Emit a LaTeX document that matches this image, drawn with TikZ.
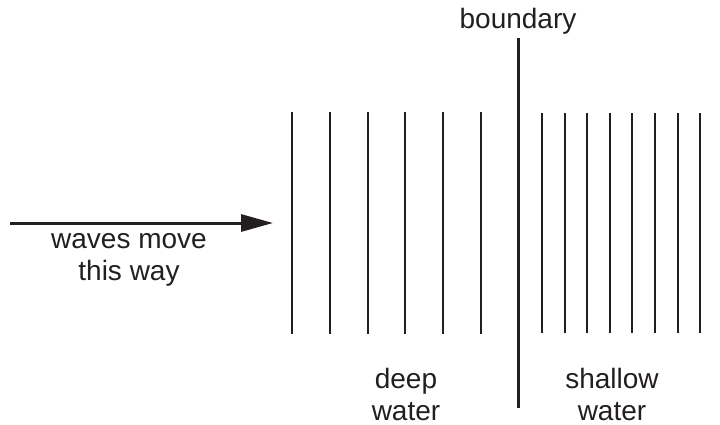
\documentclass[tikz,border=0pt]{standalone}
\usepackage{fontspec}
\setmainfont{Liberation Sans}
\usetikzlibrary{arrows.meta}
\definecolor{ink}{HTML}{231F20}
\begin{document}
\begin{tikzpicture}[x=1pt,y=-1pt,
    wave/.style={draw=ink,line width=2pt},
    lbl/.style={text=ink,font=\fontsize{28}{32}\selectfont,align=center,inner sep=0pt}]
    \useasboundingbox (0,0) rectangle (720,424);
    %% wavefronts in deep water
    \foreach \i in {0,...,5}
        \draw[wave] (292+37.8*\i,112) -- ++(0,222);
    %% wavefronts in shallow water
    \foreach \i in {0,...,7}
        \draw[wave] (542+22.6*\i,113) -- ++(0,220);
    %% boundary line
    \node[lbl,anchor=center] (bnd) at (518,21) {boundary};
    \coordinate (btop) at (518,38);
    \coordinate (bbot) at (518,408);
    \draw[draw=ink,line width=3pt] (btop) -- (bbot);
    %% direction of travel
    \coordinate (from) at (10,223);
    \coordinate (to) at (273,223);
    \draw[draw=ink,line width=3pt,-{Triangle[length=32pt,width=17pt]}] (from) -- (to);
    \node[lbl,anchor=center] (move) at (129,260) {waves move\\this way};
    %% labels
    \node[lbl,anchor=center] (deep) at (406,394) {deep\\water};
    \node[lbl,anchor=center] (shallow) at (612,394) {shallow\\water};
\end{tikzpicture}
\end{document}
